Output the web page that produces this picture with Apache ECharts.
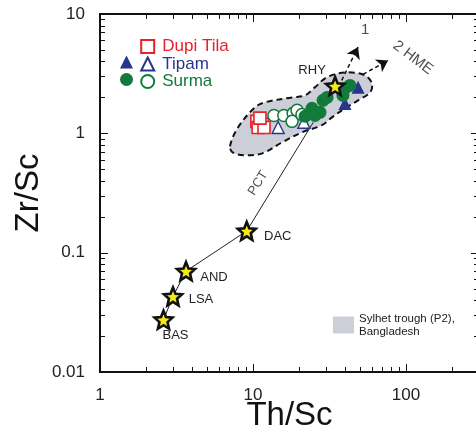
<!DOCTYPE html>
<html>
<head>
<meta charset="utf-8">
<script src="https://cdn.jsdelivr.net/npm/echarts@6.0.0/dist/echarts.min.js"></script>
<style>
  html, body { margin: 0; padding: 0; background: #fff; }
  #chart { width: 476px; height: 437px; }
</style>
</head>
<body>
<div id="chart"></div>
<script>
// reference compositions (stars) and the PCT trend
const refNames = ['BAS', 'LSA', 'AND', 'DAC', 'RHY'];
const refTh = [2.6, 3.0, 3.65, 9.1, 34.4];
const refZr = [0.0274, 0.043, 0.070, 0.152, 2.49];
const pctTh = [2.6, 3.0, 3.65, 9.1, 24.8];
const pctZr = [0.0274, 0.043, 0.070, 0.152, 1.24];

// samples
const dupiTh = [10.6, 11.5, 10.8, 11.8, 11.1];
const dupiZr = [1.26, 1.19, 1.12, 1.12, 1.34];
const tipamFillTh = [39.9, 48.6];
const tipamFillZr = [1.78, 2.43];
const tipamOpenTh = [14.6, 21.5];
const tipamOpenZr = [1.12, 1.24];
const surmaOpenTh = [13.7, 15.9, 18.3, 19.4, 18.0, 20.9];
const surmaOpenZr = [1.41, 1.41, 1.47, 1.56, 1.26, 1.44];
const surmaFillTh = [21.9, 24.3, 27.4, 25.4, 28.7, 30.5, 38.7, 39.9, 43.0];
const surmaFillZr = [1.39, 1.62, 1.50, 1.41, 1.89, 2.00, 2.08, 2.38, 2.52];

// Sylhet trough field outline
const zoneTh = [7.07, 7.98, 10.3, 12.0, 18.0, 21.9, 25.4, 29.6, 35.9, 44.4, 54.0, 59.9, 58.2, 48.6, 39.9, 32.8, 28.2, 20.9, 15.5, 11.5, 8.87, 7.40];
const zoneZr = [0.778, 1.12, 1.65, 1.82, 2.0, 2.08, 2.43, 2.89, 3.18, 3.24, 3.06, 2.62, 2.20, 1.89, 1.62, 1.36, 1.17, 1.02, 0.84, 0.68, 0.655, 0.69];

// trend arrows (start, end)
const arrowTh = [[38.0, 48.6], [52.4, 76.3]];
const arrowZr = [[2.78, 5.28], [3.12, 4.08]];

// free text
const noteNames = ['PCT', '1', '2 HME'];
const noteTh = [10.8, 54, 111];
const noteZr = [0.382, 7.3, 4.3];
const noteRotate = [58, 0, -37];

// ticks
const xMajor = [1, 10, 100];
const xMinor = [2, 3, 4, 5, 6, 7, 8, 9, 20, 30, 40, 50, 60, 70, 80, 90, 200, 300];
const yMajor = [0.01, 0.1, 1, 10];
const yMinor = [0.02, 0.03, 0.04, 0.05, 0.06, 0.07, 0.08, 0.09, 0.2, 0.3, 0.4, 0.5, 0.6, 0.7, 0.8, 0.9, 2, 3, 4, 5, 6, 7, 8, 9];

const RED = '#e8202a', BLUE = '#27358f', GREEN = '#127a3a';
const FONT = 'Liberation Sans, Arial, sans-serif';

function pairs(xs, ys) { return xs.map((x, i) => [x, ys[i]]); }

function starPath() {
  let p = '';
  for (let i = 0; i < 10; i++) {
    const r = i % 2 ? 0.45 : 1;
    const a = -Math.PI / 2 + i * Math.PI / 5;
    p += (i ? 'L' : 'M') + (r * Math.cos(a)).toFixed(3) + ' ' + (r * Math.sin(a)).toFixed(3);
  }
  return 'path://' + p + 'Z';
}

const labelOffsets = [[12, 16], [28, 3], [28, 6], [31, 5], [-23, -16]];

// inward ticks on all four sides, placed through the axes
function tickSeries(dim, values, len) {
  return {
    type: 'custom',
    silent: true,
    z: 10,
    data: values.map(v => dim === 'x' ? [v, 1] : [1, v]),
    encode: { x: 0, y: 1 },
    renderItem: (params, api) => {
      const cs = params.coordSys;
      const p = api.coord([api.value(0), api.value(1)]);
      if (dim === 'x') {
        const x = Math.round(p[0]) + 0.5;
        return {
          type: 'group', children: [
            { type: 'line', shape: { x1: x, y1: cs.y + cs.height, x2: x, y2: cs.y + cs.height - len }, style: { stroke: '#111', lineWidth: 1 } },
            { type: 'line', shape: { x1: x, y1: cs.y, x2: x, y2: cs.y + len }, style: { stroke: '#111', lineWidth: 1 } }
          ]
        };
      }
      const y = Math.round(p[1]) + 0.5;
      return {
        type: 'group', children: [
          { type: 'line', shape: { x1: cs.x, y1: y, x2: cs.x + len, y2: y }, style: { stroke: '#111', lineWidth: 1 } },
          { type: 'line', shape: { x1: cs.x + cs.width, y1: y, x2: cs.x + cs.width - len, y2: y }, style: { stroke: '#111', lineWidth: 1 } }
        ]
      };
    }
  };
}

const chart = echarts.init(document.getElementById('chart'), null, { renderer: 'canvas' });
chart.setOption({
  animation: false,
  backgroundColor: '#fff',
  grid: {
    left: 100, top: 14, width: 379, height: 358, outerBoundsMode: 'none',
    show: true, borderColor: '#111', borderWidth: 2, backgroundColor: 'transparent'
  },
  xAxis: {
    type: 'log', min: 1, max: 300,
    axisLine: { show: false },
    axisTick: { show: false },
    axisLabel: { showMaxLabel: false, margin: 15, fontSize: 17, color: '#222', fontFamily: FONT },
    splitLine: { show: false },
    name: 'Th/Sc', nameLocation: 'middle', nameGap: 27, nameMoveOverlap: false,
    nameTextStyle: { fontSize: 33, color: '#111', fontFamily: FONT }
  },
  yAxis: {
    type: 'log', min: 0.01, max: 10,
    axisLine: { show: false },
    axisTick: { show: false },
    axisLabel: { margin: 15, fontSize: 17, color: '#222', fontFamily: FONT },
    splitLine: { show: false },
    name: 'Zr/Sc', nameLocation: 'middle', nameGap: 55, nameMoveOverlap: false,
    nameTextStyle: { fontSize: 33, color: '#111', fontFamily: FONT }
  },
  legend: [
    {
      orient: 'vertical', left: 135.2, top: 33, itemWidth: 13, itemHeight: 13, itemGap: 0.5,
      selectedMode: false,
      textStyle: { fontSize: 17, fontFamily: FONT, padding: [0, 0, 0, 3] },
      data: [
        { name: 'Dupi Tila', textStyle: { color: RED } },
        { name: 'Tipam', textStyle: { color: BLUE } },
        { name: 'Surma', textStyle: { color: GREEN } }
      ]
    },
    {
      orient: 'vertical', left: 115, top: 50.5, itemWidth: 13, itemHeight: 13, itemGap: 4.5,
      selectedMode: false, formatter: () => '',
      data: ['Tipam (filled)', 'Surma (filled)']
    },
    {
      left: 328, top: 307, itemWidth: 21, itemHeight: 17, icon: 'rect',
      selectedMode: false,
      textStyle: { fontSize: 11.5, lineHeight: 13, color: '#222', fontFamily: FONT },
      data: ['Sylhet trough (P2),\nBangladesh']
    }
  ],
  series: [
    {
      name: 'Sylhet trough (P2),\nBangladesh',
      type: 'custom',
      silent: true,
      z: 1,
      itemStyle: { color: '#cdcfd8' },
      data: pairs(zoneTh, zoneZr),
      encode: { x: 0, y: 1 },
      renderItem: (params, api) => {
        if (params.dataIndex !== 0) return null;
        const pts = zoneTh.map((x, i) => api.coord([x, zoneZr[i]]));
        return {
          type: 'polygon',
          shape: { points: pts, smooth: 0.35 },
          style: { fill: '#cdcfd8', stroke: '#111', lineWidth: 2, lineDash: [6, 4] }
        };
      }
    },
    tickSeries('x', xMajor, 8),
    tickSeries('x', xMinor, 5),
    tickSeries('y', yMajor, 8),
    tickSeries('y', yMinor, 5),
    {
      name: 'PCT',
      type: 'line',
      z: 3,
      data: pairs(pctTh, pctZr),
      showSymbol: false,
      symbol: 'none',
      lineStyle: { color: '#222', width: 1 }
    },
    {
      name: 'trends',
      type: 'lines',
      coordinateSystem: 'cartesian2d',
      z: 3,
      symbol: ['none', 'arrow'],
      symbolSize: [1, 11],
      lineStyle: { color: '#111', width: 1.5, type: [4, 3], opacity: 1 },
      data: arrowTh.map((xs, i) => ({ coords: [[xs[0], arrowZr[i][0]], [xs[1], arrowZr[i][1]]] }))
    },
    {
      name: 'Dupi Tila',
      type: 'scatter',
      z: 4,
      symbol: 'rect',
      symbolSize: 12,
      itemStyle: { color: '#fff', borderColor: RED, borderWidth: 1.6, opacity: 1 },
      data: pairs(dupiTh, dupiZr)
    },
    {
      name: 'Tipam',
      type: 'scatter',
      z: 4,
      symbol: 'triangle',
      symbolSize: 12,
      itemStyle: { color: '#fff', borderColor: BLUE, borderWidth: 1.4, opacity: 1 },
      data: pairs(tipamOpenTh, tipamOpenZr)
    },
    {
      name: 'Surma',
      type: 'scatter',
      z: 4,
      symbol: 'circle',
      symbolSize: 12,
      itemStyle: { color: '#fff', borderColor: GREEN, borderWidth: 1.5, opacity: 1 },
      data: pairs(surmaOpenTh, surmaOpenZr)
    },
    {
      name: 'Tipam (filled)',
      type: 'scatter',
      z: 5,
      symbol: 'triangle',
      symbolSize: 13,
      itemStyle: { color: BLUE, opacity: 1 },
      data: pairs(tipamFillTh, tipamFillZr)
    },
    {
      name: 'Surma (filled)',
      type: 'scatter',
      z: 5,
      symbol: 'circle',
      symbolSize: 13,
      itemStyle: { color: GREEN, opacity: 1 },
      data: pairs(surmaFillTh, surmaFillZr)
    },
    {
      name: 'reference',
      type: 'scatter',
      z: 6,
      symbol: starPath(),
      symbolSize: 18,
      itemStyle: { color: '#f3ea1a', borderColor: '#111', borderWidth: 2.6, opacity: 1 },
      data: refNames.map((n, i) => ({
        name: n,
        value: [refTh[i], refZr[i]],
        label: { offset: labelOffsets[i] }
      })),
      label: {
        show: true, position: 'inside', formatter: '{b}',
        fontSize: 13, color: '#222', fontFamily: FONT
      }
    },
    {
      name: 'notes',
      type: 'scatter',
      z: 6,
      silent: true,
      symbolSize: 0,
      data: noteNames.map((n, i) => ({
        name: n,
        value: [noteTh[i], noteZr[i]],
        label: { rotate: noteRotate[i], fontSize: i === 0 ? 13 : 15 }
      })),
      label: { show: true, position: 'inside', formatter: '{b}', color: '#222', fontFamily: FONT }
    }
  ]
});
</script>
</body>
</html>
